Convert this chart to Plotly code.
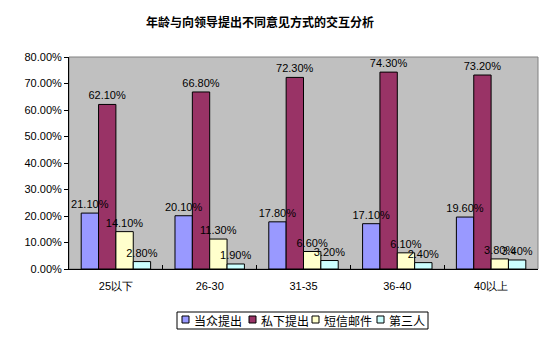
import plotly.graph_objects as go

categories = ["25以下", "26-30", "31-35", "36-40", "40以上"]
series_names = ["当众提出", "私下提出", "短信邮件", "第三人"]
public_vals = [21.1, 20.1, 17.8, 17.1, 19.6]
private_vals = [62.1, 66.8, 72.3, 74.3, 73.2]
sms_vals = [14.1, 11.3, 6.6, 6.1, 3.8]
third_vals = [2.8, 1.9, 3.2, 2.4, 3.4]
y_ticks = [0, 10, 20, 30, 40, 50, 60, 70, 80]

colors = ["#9999FF", "#993366", "#FFFFCC", "#CCFFFF"]
all_vals = [public_vals, private_vals, sms_vals, third_vals]

W, H = 554, 340
L, R, T, B = 69, 16, 57, 71
PW, PH = W - L - R, H - T - B

def px(x):
    return (x - L) / PW

def py(y):
    return (H - B - y) / PH

fig = go.Figure()
for name, vals, col in zip(series_names, all_vals, colors):
    fig.add_trace(go.Bar(
        x=categories, y=vals, name=name,
        marker=dict(color=col, line=dict(color="black", width=1)),
        showlegend=False,
    ))
# label layer drawn above all bars (transparent bars on overlaying axes)
for name, vals in zip(series_names, all_vals):
    fig.add_trace(go.Bar(
        x=categories, y=vals, name=name + " 标签",
        xaxis="x2", yaxis="y2",
        marker=dict(color="rgba(0,0,0,0)", line=dict(width=0)),
        text=[f"{v:.2f}%" for v in vals],
        textposition="outside",
        constraintext="none",
        textfont=dict(family="Liberation Sans, Arial", size=11, color="black"),
        cliponaxis=False,
        showlegend=False,
        hoverinfo="skip",
    ))

# custom legend (Excel style)
shapes = [dict(type="rect", xref="paper", yref="paper", x0=0, y0=0, x1=1, y1=1,
               line=dict(color="#808080", width=1), layer="below"),
          dict(type="rect", xref="paper", yref="paper",
               x0=px(177), x1=px(428), y0=py(329), y1=py(312),
               line=dict(color="black", width=1), fillcolor="white")]
annotations = []
sq_x = [182, 249, 312, 377]
for sx, name, col in zip(sq_x, series_names, colors):
    shapes.append(dict(type="rect", xref="paper", yref="paper",
                       x0=px(sx), x1=px(sx + 7), y0=py(323), y1=py(316),
                       line=dict(color="black", width=1), fillcolor=col))
    annotations.append(dict(text=name, xref="paper", yref="paper",
                            x=px(sx + 10), y=py(320), xanchor="left", yanchor="middle",
                            showarrow=False,
                            font=dict(family="Noto Sans CJK SC", size=12, color="black")))

fig.update_layout(
    width=W, height=H,
    margin=dict(l=L, r=R, t=T, b=B),
    paper_bgcolor="white",
    plot_bgcolor="#C0C0C0",
    barmode="group",
    bargap=0.26,
    bargroupgap=0,
    title=dict(text="<b>年龄与向领导提出不同意见方式的交互分析</b>",
               xref="container", x=260 / W, xanchor="center",
               y=1 - 23 / H, yanchor="middle",
               font=dict(family="Noto Sans CJK SC", size=12, color="black")),
    showlegend=False,
    xaxis=dict(showgrid=False, showline=True, linecolor="black", linewidth=1,
               ticks="inside", tickson="boundaries", ticklen=4, tickcolor="black",
               ticklabelstandoff=7,
               tickfont=dict(family="Liberation Sans, Arial", size=11, color="black")),
    yaxis=dict(range=[0, 80], tickvals=y_ticks,
               ticktext=[f"{v:.2f}%" for v in y_ticks],
               showgrid=False, showline=True, linecolor="black", linewidth=1,
               ticks="outside", ticklen=4, tickcolor="black", zeroline=False,
               tickfont=dict(family="Liberation Sans, Arial", size=11, color="black")),
    xaxis2=dict(overlaying="x", matches="x", visible=False, showgrid=False),
    yaxis2=dict(overlaying="y", range=[0, 80], visible=False, showgrid=False,
                zeroline=False),
    shapes=shapes,
    annotations=annotations,
)

fig.write_html("out.html")
